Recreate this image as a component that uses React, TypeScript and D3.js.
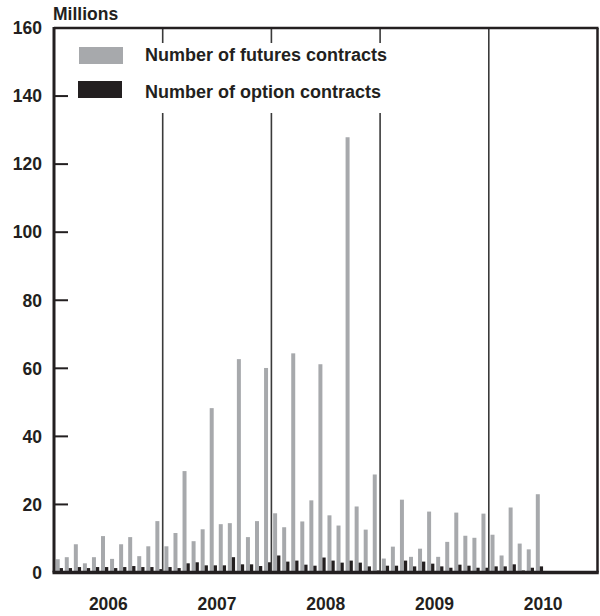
import React from "react";
import * as d3 from "d3";

const years = ["2006", "2007", "2008", "2009", "2010"];
const yTicks = [0, 20, 40, 60, 80, 100, 120, 140, 160];

// Monthly values, Jan 2006 .. Dec 2010 (null = no data)
const futures: (number | null)[] = [
  3.9, 4.5, 8.3, 2.7, 4.5, 10.7, 4.0, 8.3, 10.4, 4.8, 7.7, 15.1,
  7.7, 11.6, 29.8, 9.2, 12.7, 48.3, 14.2, 14.5, 62.7, 10.4, 15.1, 60.1,
  17.4, 13.3, 64.4, 15.0, 21.2, 61.2, 16.8, 13.8, 127.9, 19.4, 12.6, 28.8,
  4.1, 7.6, 21.4, 4.6, 7.0, 17.9, 4.6, 9.0, 17.6, 10.8, 10.2, 17.3,
  11.1, 5.0, 19.1, 8.5, 6.8, 23.0, null, null, null, null, null, null,
];
const options: (number | null)[] = [
  1.3, 1.3, 1.6, 1.3, 1.6, 1.6, 1.3, 1.6, 1.9, 1.6, 1.6, 1.0,
  1.6, 1.3, 2.7, 3.0, 2.1, 2.1, 2.1, 4.5, 2.4, 2.4, 1.9, 3.0,
  5.0, 3.2, 3.5, 2.3, 2.0, 4.4, 3.5, 2.9, 3.5, 2.9, 1.8, 0.6,
  2.0, 2.0, 3.5, 1.8, 3.2, 2.6, 1.8, 1.4, 2.3, 2.0, 1.4, 1.4,
  1.8, 1.8, 2.4, 0.6, 1.4, 1.8, null, null, null, null, null, null,
];
const legendLabels = ["Number of futures contracts", "Number of option contracts"];

const GREY = "#a7a9ac";
const DARK = "#231f20";
const FONT = "'Liberation Sans', Arial, Helvetica, sans-serif";

export default function App() {
  const W = 600, H = 616;
  const x0 = 54, x1 = 597.5, yTop = 28, yBot = 572.5;
  const months = d3.range(futures.length);
  const x = d3.scaleBand<number>().domain(months).range([x0, x1]).paddingInner(0).paddingOuter(0);
  const step = x.step();
  const xYear = d3.scaleBand<string>().domain(years).range([x0, x1]);
  const y = d3.scaleLinear().domain([0, 160]).range([yBot, yTop]);

  return (
    <svg width={W} height={H} style={{ position: "absolute", left: 0, top: 0, background: "#fff" }}
      fontFamily={FONT}>
      <rect x={0} y={0} width={W} height={H} fill="#fff" />
      {/* bars */}
      {months.map((i) => {
        const f = futures[i];
        const o = options[i];
        const bx = x(i)!;
        return (
          <g key={i}>
            {f != null && (
              <rect x={bx + step * 0.19} y={y(f)} width={step * 0.44} height={yBot - y(f)} fill={GREY} />
            )}
            {o != null && (
              <rect x={bx + step * 0.63} y={y(o)} width={step * 0.36} height={yBot - y(o)} fill={DARK} />
            )}
          </g>
        );
      })}
      {/* year dividers */}
      {years.slice(1).map((yr) => (
        <line key={yr} x1={xYear(yr)!} x2={xYear(yr)!} y1={yTop} y2={yBot}
          stroke="#3a3a3a" strokeWidth={1.6} />
      ))}
      {/* legend background */}
      <rect x={70} y={43} width={330} height={70} fill="#fff" />
      <rect x={79} y={47} width={44} height={17} fill={GREY} />
      <rect x={78} y={81} width={44} height={17} fill={DARK} />
      <text x={145} y={61} fontSize={18} fontWeight="bold" fill={DARK}>{legendLabels[0]}</text>
      <text x={145} y={98} fontSize={18} fontWeight="bold" fill={DARK}>{legendLabels[1]}</text>
      {/* y ticks */}
      {yTicks.slice(1, -1).map((t) => (
        <line key={t} x1={x0} x2={68} y1={y(t)} y2={y(t)} stroke={DARK} strokeWidth={2} />
      ))}
      {yTicks.map((t) => (
        <text key={t} x={42} y={y(t)} dy="0.36em" textAnchor="end" fontSize={17.5} fontWeight="bold" fill={DARK}>
          {t}
        </text>
      ))}
      {/* frame */}
      <line x1={x0} x2={x1 + 1} y1={yTop} y2={yTop} stroke={DARK} strokeWidth={2.5} />
      <line x1={x1} x2={x1} y1={yTop} y2={yBot} stroke={DARK} strokeWidth={2.5} />
      <line x1={x0} x2={x0} y1={yTop - 1} y2={yBot} stroke={DARK} strokeWidth={3} />
      <line x1={x0 - 1.5} x2={x1 + 1.25} y1={yBot} y2={yBot} stroke={DARK} strokeWidth={3.5} />
      {/* year labels */}
      {years.map((yr) => (
        <text key={yr} x={xYear(yr)! + xYear.bandwidth() / 2} y={610} textAnchor="middle"
          fontSize={17.5} fontWeight="bold" fill={DARK}>{yr}</text>
      ))}
      <text x={53} y={20} fontSize={17.5} fontWeight="bold" fill={DARK}>Millions</text>
    </svg>
  );
}
